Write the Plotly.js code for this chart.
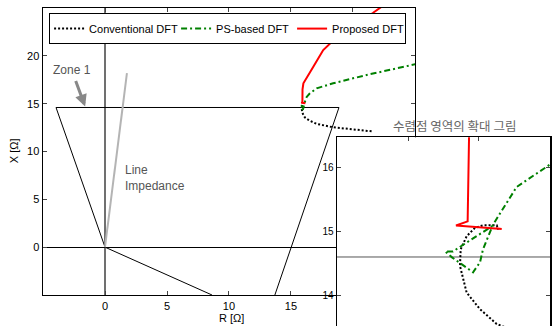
<!DOCTYPE html>
<html>
<head>
<meta charset="utf-8">
<script src="https://cdn.plot.ly/plotly-3.0.1.min.js"></script>
<style>html,body{margin:0;padding:0;background:#fff;}#chart{width:556px;height:326px;}</style>
</head>
<body>
<div id="chart"></div>
<script>
// Conventional DFT trajectory (R, X in ohms)
var convR = [21.5, 18.4, 17.07, 16.5, 16.125, 16.007, 15.913, 15.866, 15.871, 15.913, 15.972, 16.03, 16.125, 16.136];
var convX = [12.11, 12.53, 12.89, 13.22, 13.547, 13.78, 14.04, 14.458, 14.72, 14.927, 15.058, 15.098, 15.098, 15.03];
// PS-based DFT trajectory
var psR = [25.2, 21.1, 18.4, 17.07, 16.505, 16.265, 16.099, 16.028, 16.007, 15.958, 15.81, 15.761, 15.817, 15.915, 16.028, 16.09];
var psX = [19.17, 18.0, 17.13, 16.6, 16.06, 15.70, 15.109, 14.72, 14.516, 14.36, 14.594, 14.6875, 14.6875, 14.83, 15.0, 15.08];
// Proposed DFT trajectory
var propR = [22.6, 22.18, 21.6, 18.87, 17.6, 16.8, 16.0, 15.93, 15.92, 15.838, 16.16, 16.02, 16.16, 16.05, 16.12];
var propX = [25.4, 25.0, 24.48, 22.18, 20.6, 18.87, 17.13, 16.5, 15.16, 15.094, 15.05, 15.07, 15.04, 15.06, 15.05];
// Zone 1 characteristic
var zoneR = [8.63, 0, -3.95, 18.87, 13.7];
var zoneX = [-5, 0, 14.6, 14.6, -5];
// Line impedance
var lineR = [0, 1.77];
var lineX = [0, 18.2];

var names = ['Conventional DFT', 'PS-based DFT', 'Proposed DFT'];
var mainTickVals = [0, 5, 10, 15, 20];
var insetYTicks = [14, 15, 16];
var insetXTicks = [15.5, 16];

var dotLine = {color: '#000', width: 2, dash: '2px,2px'};
var dashDotLine = {color: '#008000', width: 2, dash: '6px,3px,2px,3px'};
var solidLine = {color: '#ff0000', width: 2};

function series(xa, ya, show) {
  return [
    {x: zoneR, y: zoneX, mode: 'lines', xaxis: xa, yaxis: ya, showlegend: false, hoverinfo: 'skip',
     line: {color: xa === 'x' ? '#000' : '#555', width: 1}},
    {x: lineR, y: lineX, mode: 'lines', xaxis: xa, yaxis: ya, showlegend: false, hoverinfo: 'skip',
     line: {color: '#b4b4b4', width: 2}},
    {x: convR, y: convX, mode: 'lines', name: names[0], legendgroup: 'a', legendwidth: 82, showlegend: show, xaxis: xa, yaxis: ya, line: dotLine},
    {x: psR, y: psX, mode: 'lines', name: names[1], legendgroup: 'b', legendwidth: 71, showlegend: show, xaxis: xa, yaxis: ya, line: dashDotLine},
    {x: propR, y: propX, mode: 'lines', name: names[2], legendgroup: 'c', legendwidth: 68, showlegend: show, xaxis: xa, yaxis: ya, line: solidLine}
  ];
}

var data = series('x', 'y', true).concat(series('x2', 'y2', false));

var fontFam = '"Liberation Sans", Arial, sans-serif';

var layout = {
  width: 556, height: 326,
  margin: {l: 43, r: 6, t: 8, b: 0},
  paper_bgcolor: '#fff', plot_bgcolor: '#fff',
  font: {family: fontFam, size: 11, color: '#000'},
  showlegend: true,
  legend: {orientation: 'h', x: 0.012, y: 0.984, xanchor: 'left', yanchor: 'top',
           bordercolor: '#000', borderwidth: 1, bgcolor: '#fff', font: {size: 11, family: fontFam}},
  xaxis: {domain: [0, 0.7337], range: [-5, 25], tickvals: mainTickVals, ticks: 'inside', ticklen: 4,
          showline: true, linecolor: '#000', linewidth: 1.5, mirror: 'ticks', showgrid: false,
          zeroline: true, zerolinecolor: '#707070', zerolinewidth: 2, tickfont: {size: 11}},
  yaxis: {domain: [0.0975, 1], range: [-5, 25], tickvals: mainTickVals, ticks: 'inside', ticklen: 4,
          showline: true, linecolor: '#000', linewidth: 1.5, mirror: 'ticks', showgrid: false,
          zeroline: true, zerolinecolor: '#000', zerolinewidth: 1, tickfont: {size: 11}},
  xaxis2: {domain: [0.5799, 1], range: [15, 16.5], anchor: 'y2', side: 'top', tickvals: insetXTicks,
           ticks: 'inside', ticklen: 4, showticklabels: false, showline: true, linecolor: '#000', linewidth: 1.5,
           showgrid: false, zeroline: false},
  yaxis2: {domain: [0, 0.5934], range: [13.516, 16.48], anchor: 'x2', tickvals: insetYTicks,
           ticks: 'inside', ticklen: 4, showline: true, linecolor: '#000', linewidth: 1.5, mirror: 'ticks',
           showgrid: false, zeroline: false, tickfont: {size: 10}},
  annotations: [
    {xref: 'paper', yref: 'paper', x: 0.372, y: 0.025, text: 'R [Ω]', showarrow: false,
     xanchor: 'center', yanchor: 'middle', font: {size: 11}},
    {xref: 'paper', yref: 'paper', x: -0.057, y: 0.55, text: 'X [Ω]', showarrow: false, textangle: -90,
     xanchor: 'center', yanchor: 'middle', font: {size: 11}},
    {xref: 'x', yref: 'y', x: -2.65, y: 18.54, text: 'Zone 1', showarrow: false, font: {size: 12, color: '#555'}},
    {xref: 'x', yref: 'y', x: -1.6, y: 14.7, ax: -10, ay: -27, text: '', showarrow: true,
     arrowcolor: '#888', arrowwidth: 3, arrowhead: 2, arrowsize: 0.8, standoff: 0},
    {xref: 'x', yref: 'y', x: 1.45, y: 7.24, text: 'Line<br>Impedance', showarrow: false, align: 'left',
     xanchor: 'left', yanchor: 'middle', font: {size: 12, color: '#555'}},
    {xref: 'paper', yref: 'paper', x: 0.8116, y: 0.632, text: '수렴점 영역의 확대 그림', showarrow: false,
     xanchor: 'center', yanchor: 'middle', font: {size: 12.5, color: '#666', family: '"Noto Sans CJK KR", sans-serif'}}
  ]
};

Plotly.newPlot('chart', data, layout, {displayModeBar: false, staticPlot: true});
</script>
</body>
</html>
